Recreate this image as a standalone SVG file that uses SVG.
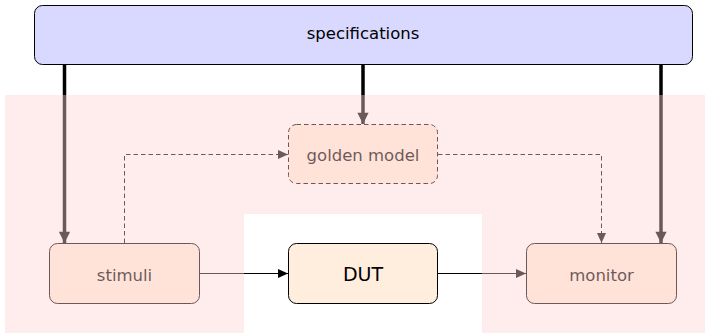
<svg xmlns="http://www.w3.org/2000/svg" width="710" height="334" viewBox="0 0 710 334">
<style>
.box{stroke:#000;stroke-width:1}
.blk{fill:#ffeedd}
.lbl{font-family:"DejaVu Sans",sans-serif;font-size:16.5px;fill:#000;text-anchor:middle}
.thick{stroke:#000;stroke-width:3.5;fill:none}
.thin{stroke:#000;stroke-width:1;fill:none}
.dash{stroke:#000;stroke-width:1;fill:none;stroke-dasharray:4.5 3}
</style>
<defs>
<marker id="ah" viewBox="0 0 10 10" refX="10" refY="5" markerWidth="10" markerHeight="10" markerUnits="userSpaceOnUse" orient="auto">
<path d="M0,0.5 L10,5 L0,9.5 Z" fill="#000"/>
</marker>
<marker id="ahb" viewBox="0 0 10 10" refX="10" refY="5" markerWidth="3.4" markerHeight="3.2" orient="auto">
<path d="M0,0 L10,5 L0,10 Z" fill="#000"/>
</marker>
</defs>
<rect x="0" y="0" width="710" height="334" fill="#fff"/>
<g id="specifications">
<rect class="box" x="34.5" y="5.5" width="658" height="59" rx="8" fill="#d9d9ff"/>
<text class="lbl" x="363" y="38.5">specifications</text>
</g>
<g id="golden-model">
<rect x="288.5" y="124.5" width="149" height="59" rx="8" fill="#ffeedd" stroke="#000" stroke-width="1" stroke-dasharray="4.5 3"/>
<text class="lbl" x="363" y="160.5">golden model</text>
</g>
<g id="stimuli">
<rect class="box blk" x="49.5" y="243.5" width="150" height="60" rx="8"/>
<text class="lbl" x="124.5" y="280.5">stimuli</text>
</g>
<g id="DUT">
<rect class="box blk" x="288.5" y="243.5" width="149" height="60" rx="8"/>
<text class="lbl" x="363" y="280.5" style="font-size:19px">DUT</text>
</g>
<g id="monitor">
<rect class="box blk" x="526.5" y="243.5" width="150" height="60" rx="8"/>
<text class="lbl" x="601.5" y="280.5">monitor</text>
</g>
<g id="connectors">
<line class="thick" x1="64.5" y1="64.5" x2="64.5" y2="243" marker-end="url(#ahb)"/>
<line class="thick" x1="363" y1="64.5" x2="363" y2="124" marker-end="url(#ahb)"/>
<line class="thick" x1="661" y1="64.5" x2="661" y2="243" marker-end="url(#ahb)"/>
<path class="dash" d="M124.5,243 V154.5 H288" marker-end="url(#ah)"/>
<path class="dash" d="M438,154.5 H601.5 V243" marker-end="url(#ah)"/>
<line class="thin" x1="199.5" y1="273.5" x2="288" y2="273.5" marker-end="url(#ah)"/>
<line class="thin" x1="438" y1="273.5" x2="526" y2="273.5" marker-end="url(#ah)"/>
</g>
<path d="M5,95 H705 V333 H482 V214 H244 V333 H5 Z" fill="rgb(255,209,209)" fill-opacity="0.42"/>
</svg>
